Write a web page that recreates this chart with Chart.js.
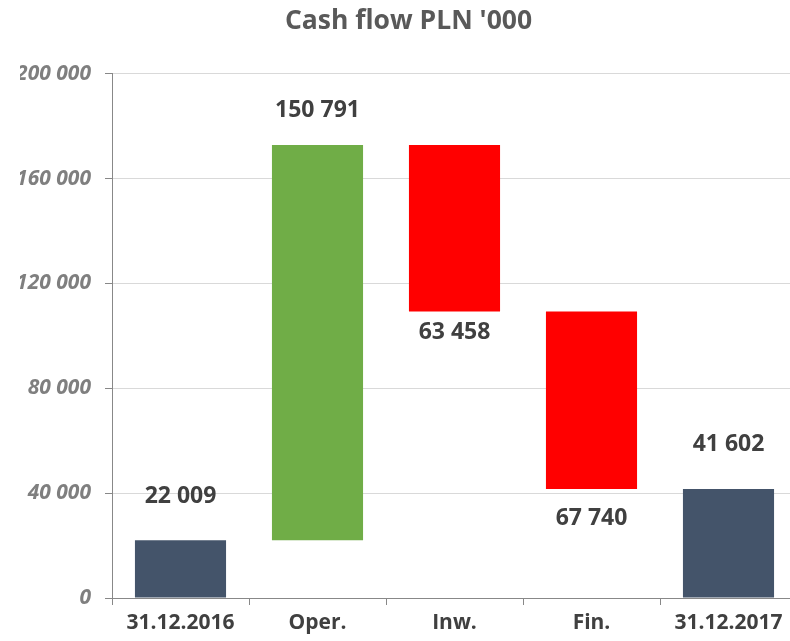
<!DOCTYPE html>
<html>
<head>
<meta charset="utf-8">
<script src="https://cdn.jsdelivr.net/npm/chart.js@4"></script>
<style>
html,body{margin:0;padding:0;background:#fff;overflow:hidden;}
#wrap{position:absolute;left:0;top:0;width:800px;height:641px;}
</style>
</head>
<body>
<div id="wrap"><canvas id="c" width="800" height="641"></canvas></div>
<script>
// ---- data ----
const categories = ['31.12.2016', 'Oper.', 'Inw.', 'Fin.', '31.12.2017'];
const changes = [22009, 150791, -63458, -67740, 41602];
const isTotal = [true, false, false, false, true];
const yTicks = [0, 40000, 80000, 120000, 160000, 200000];

// build floating ranges
const ranges = [];
let running = 0;
changes.forEach((v, i) => {
  if (isTotal[i]) { ranges.push([0, v]); running = v; }
  else { ranges.push([running, running + v]); running += v; }
});
const colors = changes.map((v, i) => isTotal[i] ? '#44546A' : (v >= 0 ? '#70AD47' : '#FF0000'));

function fmt(n) {
  return Math.abs(n).toString().replace(/\B(?=(\d{3})+(?!\d))/g, ' ');
}

const labelPlugin = {
  id: 'wfLabels',
  afterDatasetsDraw(chart, args, opts) {
    const ctx = chart.ctx;
    const meta = chart.getDatasetMeta(0);
    ctx.save();
    ctx.font = 'bold 23px "Open Sans"';
    ctx.fillStyle = '#404040';
    ctx.textAlign = 'center';
    ctx.textBaseline = 'middle';
    meta.data.forEach((bar, i) => {
      const v = changes[i];
      const top = Math.min(bar.y, bar.base);
      const bottom = Math.max(bar.y, bar.base);
      const off = opts.offsets[i];
      const y = v >= 0 ? top - off : bottom + off;
      ctx.fillText(fmt(v), bar.x, y);
    });
    ctx.restore();
  }
};

new Chart(document.getElementById('c'), {
  type: 'bar',
  data: {
    labels: categories,
    datasets: [{
      data: ranges,
      backgroundColor: colors,
      borderWidth: 0,
      categoryPercentage: 1,
      barPercentage: 0.665
    }]
  },
  options: {
    responsive: false,
    animation: false,
    layout: { padding: { left: 20, right: 3, top: 0, bottom: 0 } },
    plugins: {
      legend: { display: false },
      tooltip: { enabled: false },
      title: {
        display: true,
        text: "Cash flow PLN '000",
        color: '#595959',
        font: { family: 'Open Sans', size: 26.5, weight: 'bold' },
        padding: { top: 6, bottom: 36 }
      },
      wfLabels: { offsets: [44, 35, 21, 29, 45] }
    },
    scales: {
      x: {
        grid: { offset: true, drawOnChartArea: false, tickLength: 7, color: '#888888', tickColor: '#888888' },
        border: { color: '#888888', width: 1 },
        ticks: {
          color: '#404040',
          font: { family: 'Open Sans', size: 21, weight: 'bold' },
          padding: 5,
          maxRotation: 0
        },
        afterFit(s) { s.height = 43; }
      },
      y: {
        min: 0, max: 200000,
        afterBuildTicks(s) { s.ticks = yTicks.map(v => ({ value: v })); },
        grid: { color: '#D9D9D9', tickLength: 7, tickColor: '#888888' },
        border: { color: '#888888', width: 1 },
        ticks: {
          color: '#7F7F7F',
          font: { family: 'Noto Sans', size: 21, weight: 'bold', style: 'italic' },
          padding: 14,
          callback: v => fmt(v)
        },
        afterFit(s) { s.width = 92; }
      }
    }
  },
  plugins: [labelPlugin]
});
</script>
</body>
</html>
